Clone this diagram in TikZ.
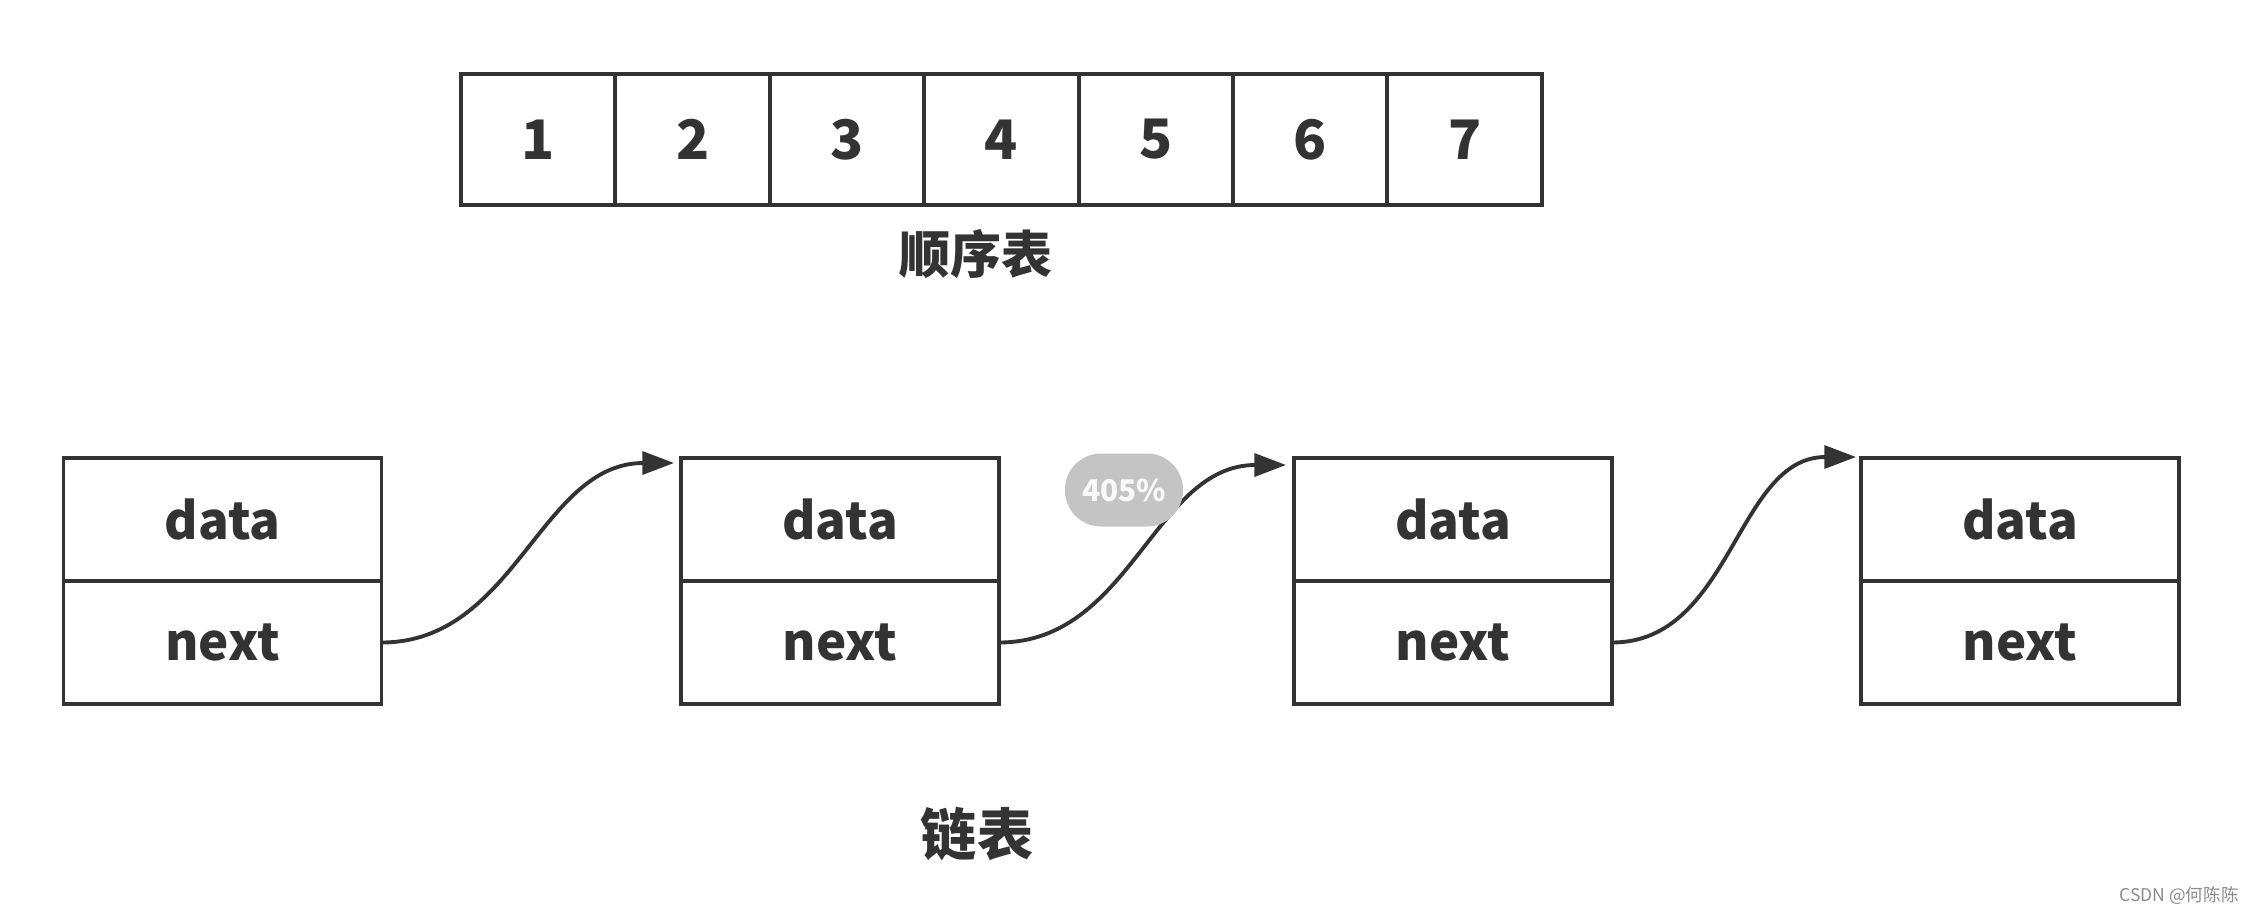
\documentclass[tikz,border=0pt]{standalone}
\usepackage{fontspec}
\newfontfamily\cjk{Noto Sans CJK SC}
\usetikzlibrary{positioning,arrows.meta}
\definecolor{linegray}{HTML}{333333}
\definecolor{pillgray}{HTML}{C4C4C4}
\definecolor{markgray}{HTML}{8C8C8C}

\begin{document}
\begin{tikzpicture}[
  cell/.style={draw=linegray, line width=1.1pt, outer sep=0pt, minimum width=1.544cm, minimum height=1.31cm, text=linegray, font=\cjk\bfseries\fontsize{15.5}{18}\selectfont},
  box/.style={draw=linegray, line width=1.1pt, outer sep=0pt, minimum width=3.18cm, minimum height=1.23cm, text=linegray, font=\cjk\bfseries\fontsize{14.5}{17}\selectfont},
  link/.style={draw=linegray, line width=1.1pt, -{Triangle[length=9pt,width=6.5pt]}},
  title/.style={text=linegray, font=\cjk\bfseries\fontsize{14.5}{17}\selectfont}
]
\useasboundingbox (0,0) rectangle (22.44,-9.12);
\node[cell] (a1) at (5.382,-1.395) {1};
\node[cell, right=0pt of a1] (a2) {2};
\node[cell, right=0pt of a2] (a3) {3};
\node[cell, right=0pt of a3] (a4) {4};
\node[cell, right=0pt of a4] (a5) {5};
\node[cell, right=0pt of a5] (a6) {6};
\node[cell, right=0pt of a6] (a7) {7};
\node[title] (seq) at (9.76,-2.54) {顺序表};

\node[box] (d1) at (2.225,-5.195) {data};
\node[box, below=0pt of d1] (n1) {next};
\node[box] (d2) at (8.40,-5.195) {data};
\node[box, below=0pt of d2] (n2) {next};
\node[box] (d3) at (14.53,-5.195) {data};
\node[box, below=0pt of d3] (n3) {next};
\node[box] (d4) at (20.20,-5.195) {data};
\node[box, below=0pt of d4] (n4) {next};
\draw[link] (n1.east) to[out=0, in=180] ([xshift=-0.07cm, yshift=-0.05cm]d2.north west);
\draw[link] (n2.east) to[out=0, in=180] ([xshift=-0.08cm, yshift=-0.07cm]d3.north west);
\draw[link] (n3.east) to[out=0, in=180] ([xshift=-0.05cm, yshift=0.01cm]d4.north west);
\node[title, font=\cjk\bfseries\fontsize{16}{19}\selectfont] (lst) at (9.77,-8.34) {链表};

\node[fill=pillgray, rounded corners=0.36cm, minimum width=1.18cm, minimum height=0.73cm, text=white!90!pillgray, font=\cjk\bfseries\fontsize{8.5}{10}\selectfont] (zoom) at (11.24,-4.90) {405\%};
\node[text=markgray, font=\cjk\fontsize{5}{6}\selectfont] (mark) at (21.79,-8.96) {CSDN @何陈陈};
\end{tikzpicture}
\end{document}
